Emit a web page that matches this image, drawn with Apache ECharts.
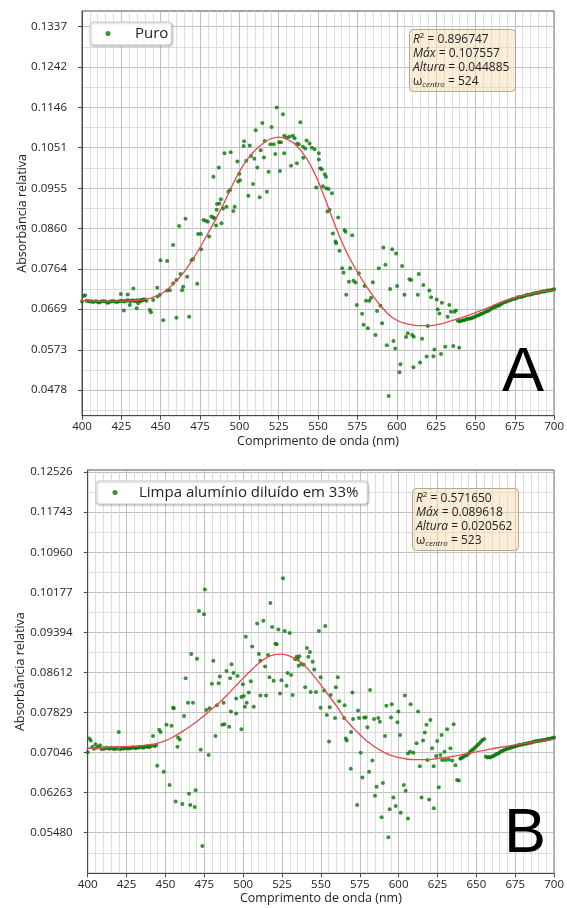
<!DOCTYPE html>
<html><head><meta charset="utf-8">
<script src="https://cdn.jsdelivr.net/npm/echarts@6/dist/echarts.min.js"></script>
<style>html,body{margin:0;padding:0;background:#fff}#c{width:567px;height:908px}</style>
</head><body><div id="c"></div>
<script>
const FONT = '"Open Sans", "DejaVu Sans", sans-serif';

// ---------- Panel A (Puro) ----------
const seriesNameA = 'Puro';
const yTicksA = [0.0478, 0.0573, 0.0669, 0.0764, 0.0860, 0.0955, 0.1051, 0.1146, 0.1242, 0.1337];
const yRangeA = [0.04172, 0.13741];
const pointsA = [
[400,0.0687],[401,0.0700],[402,0.0702],[403,0.0689],[404,0.0688],[405,0.0687],[406,0.0688],[407,0.0686],[408,0.0687],[409,0.0688],
[410,0.0686],[411,0.0685],[412,0.0687],[413,0.0688],[414,0.0688],[415,0.0687],[416,0.0684],[417,0.0685],[418,0.0687],[419,0.0688],
[420,0.0688],[421,0.0687],[422,0.0686],[423,0.0687],[424,0.0688],[425,0.0689],[426,0.0688],[427,0.0687],[428,0.0689],[429,0.0690],
[430,0.0689],[431,0.0688],[432,0.0690],[433,0.0689],[434,0.0688],[435,0.0690],[436,0.0689],[437,0.0690],[438,0.0691],[439,0.0692],[440,0.0692],
[424.7,0.0705],[426.6,0.0666],[429.0,0.0704],[430.4,0.0679],[432.6,0.0718],[434.7,0.0671],[435.7,0.0683],[437.4,0.0688],[438.9,0.0691],
[441.0,0.0689],[443.1,0.0667],[443.8,0.0662],[445.2,0.0691],[447.8,0.0720],[448.0,0.0699],[449.5,0.0703],[449.9,0.0785],[451.6,0.0643],
[454.1,0.0713],[454.1,0.0783],[455.8,0.0714],[457.9,0.0730],[457.9,0.0821],[460.0,0.0738],[460.0,0.0649],[461.7,0.0866],[462.6,0.0752],
[463.6,0.0714],[464.3,0.0722],[465.8,0.0883],[466.8,0.0746],[468.1,0.0651],[469.6,0.0785],[470.6,0.0788],[473.2,0.0729],[473.8,0.0847],
[475.5,0.0847],[475.7,0.0811],[477.2,0.0880],[478.6,0.0878],[479.9,0.0876],[480.8,0.0841],[482.2,0.0888],[483.3,0.0886],[483.5,0.0982],
[484.4,0.0884],[485.2,0.0867],[485.6,0.0904],[485.8,0.0918],[486.9,0.1004],[487.3,0.0919],[488.2,0.0929],[488.6,0.0872],[489.6,0.0907],
[490.5,0.1038],[491.8,0.0911],[493.0,0.0947],[494.1,0.0951],[494.5,0.1040],[496.2,0.0901],[497.0,0.0911],[498.7,0.1018],[499.2,0.0971],
[500.0,0.0989],[500.4,0.0974],[502.7,0.1055],[503.0,0.1066],[504.4,0.1020],[505.7,0.0937],[506.6,0.1056],[507.4,0.1031],[508.7,0.0965],
[509.5,0.1025],[510.4,0.1092],[511.4,0.1004],[512.9,0.0934],[513.5,0.1045],[514.6,0.1109],[515.6,0.1028],[516.1,0.1067],[517.5,0.0947],
[518.6,0.0994],[519.7,0.1059],[520.5,0.1100],[521.8,0.1059],[522.8,0.1036],[523.7,0.1146],[525.2,0.1064],[525.8,0.0996],[526.4,0.1064],
[527.7,0.1130],[528.5,0.1079],[528.5,0.1038],[530.2,0.1075],[531.9,0.1077],[532.8,0.1008],[534.0,0.1079],[535.1,0.1073],[536.6,0.1060],
[536.6,0.1014],[537.8,0.1059],[538.7,0.1111],[540.4,0.1053],[540.6,0.1027],[541.9,0.1049],[542.7,0.1068],[544.6,0.1061],[546.1,0.1051],
[547.8,0.1047],[548.8,0.0957],[550.5,0.1038],[550.5,0.1023],[551.4,0.1002],[552.4,0.1000],[553.1,0.0960],[554.3,0.0988],[555.0,0.0982],
[555.2,0.0955],[556.0,0.0900],[556.7,0.0953],[557.3,0.0904],[558.8,0.0943],[559.4,0.0848],[561.1,0.0829],[561.5,0.0825],[562.8,0.0886],
[563.6,0.0807],[565.3,0.0766],[566.2,0.0755],[566.8,0.0856],[567.4,0.0852],[567.9,0.0703],[569.6,0.0734],[570.4,0.0766],[571.7,0.0844],
[572.5,0.0736],[573.8,0.0732],[574.6,0.0679],[575.9,0.0754],[578.0,0.0658],[578.9,0.0632],[579.5,0.0724],[580.5,0.0689],[581.6,0.0624],
[582.6,0.0689],[583.7,0.0696],[584.8,0.0733],[586.5,0.0608],[587.5,0.0665],[588.6,0.0766],[589.6,0.0677],[590.7,0.0636],[591.5,0.0815],
[592.8,0.0774],[593.7,0.0584],[594.9,0.0464],[595.8,0.0717],[597.1,0.0811],[597.9,0.0594],[599.0,0.0576],[599.6,0.0801],[600.2,0.0724],
[601.7,0.0520],[602.3,0.0539],[603.4,0.0771],[604.9,0.0703],[605.9,0.0603],[607.0,0.0612],[608.1,0.0740],[609.1,0.0738],[609.8,0.0608],
[610.6,0.0532],[610.8,0.0604],[613.4,0.0703],[614.0,0.0752],[614.8,0.0543],[616.1,0.0599],[616.9,0.0726],[619.0,0.0557],[619.7,0.0629],
[620.7,0.0713],[621.8,0.0697],[623.3,0.0558],[623.9,0.0574],[625.4,0.0692],[626.0,0.0669],[627.1,0.0659],[628.1,0.0563],[628.7,0.0684],
[630.8,0.0580],[632.3,0.0651],[633.4,0.0679],[634.4,0.0663],[635.9,0.0582],[636.6,0.0663],[637.6,0.0666],[638.7,0.0642],[639.7,0.0578],
[640,0.0640],[641,0.0642],[642,0.0643],[643,0.0643],[644,0.0645],[645,0.0646],[646,0.0647],[647,0.0647],[648,0.0649],[649,0.0650],
[650,0.0652],[651,0.0654],[652,0.0655],[653,0.0657],[654,0.0658],[655,0.0660],[656,0.0662],[657,0.0664],[658,0.0665],[659,0.0667],
[660,0.0670],[661,0.0672],[662,0.0674],[663,0.0675],[664,0.0677],[665,0.0678],[666,0.0680],[667,0.0683],[668,0.0685],[669,0.0686],
[670,0.0688],[671,0.0689],[672,0.0690],[673,0.0692],[674,0.0693],[675,0.0694],[676,0.0695],[677,0.0697],[678,0.0698],[679,0.0698],
[680,0.0699],[681,0.0700],[682,0.0702],[683,0.0703],[684,0.0703],[685,0.0704],[686,0.0705],[687,0.0706],[688,0.0707],[689,0.0708],
[690,0.0708],[691,0.0709],[692,0.0710],[693,0.0711],[694,0.0711],[695,0.0712],[696,0.0713],[697,0.0713],[698,0.0714],[699,0.0715],[700,0.0716]
];
const fitXA = [400,410,420,430,435,440,445,450,455,460,465,470,475,480,485,490,495,500,505,510,515,520,525,530,535,540,545,550,555,560,565,570,575,580,585,590,595,600,605,610,615,620,625,630,635,640,645,650,655,660,665,670,675,680,685,690,695,700];
const fitYA = [0.0689,0.0688,0.0688,0.0689,0.0690,0.0692,0.0697,0.0705,0.0718,0.0736,0.0758,0.0785,0.0815,0.0848,0.0882,0.0918,0.0958,0.0994,0.1023,0.1045,0.1061,0.1072,0.1076,0.1071,0.1060,0.1040,0.1011,0.0972,0.0925,0.0875,0.0829,0.0790,0.0757,0.0727,0.0700,0.0676,0.0656,0.0643,0.0636,0.0632,0.0630,0.0630,0.0632,0.0636,0.0642,0.0648,0.0654,0.0661,0.0668,0.0676,0.0684,0.0690,0.0696,0.0701,0.0705,0.0709,0.0712,0.0714];
const statsA = {r2: '0.896747', max: '0.107557', altura: '0.044885', centro: '524'};

// ---------- Panel B (Limpa alumínio diluído em 33%) ----------
const seriesNameB = 'Limpa alumínio diluído em 33%';
const yTicksB = [0.05480, 0.06263, 0.07046, 0.07829, 0.08612, 0.09394, 0.10177, 0.10960, 0.11743, 0.12526];
const yRangeB = [0.04687, 0.12567];
const pointsB = [
[400,0.0705],[401,0.0732],[402,0.0728],[403,0.0716],[404,0.0712],[405,0.0721],[406,0.0714],[407,0.0716],[408,0.0719],[409,0.0711],
[410,0.0713],[411,0.0712],[412,0.0714],[413,0.0713],[414,0.0712],[415,0.0714],[416,0.0713],[417,0.0711],[418,0.0713],[419,0.0712],
[420,0.0745],[421,0.0711],[422,0.0713],[423,0.0712],[424,0.0714],[425,0.0713],[426,0.0712],[427,0.0714],[428,0.0713],[429,0.0715],
[430,0.0714],[431,0.0713],[432,0.0715],[433,0.0714],[434,0.0716],[435,0.0715],[436,0.0714],[437,0.0716],[438,0.0717],[439,0.0715],
[440,0.0716],[441,0.0718],[442,0.0737],[443,0.0717],[444,0.0719],
[446.0,0.0749],[446.9,0.0745],[450.7,0.0759],[453.9,0.0757],[455.4,0.0791],[458.1,0.0734],[459.2,0.0730],[457.7,0.0716],[462.0,0.0776],
[476.3,0.0788],[482.2,0.0737],[477.8,0.0700],[472.7,0.0710],[486.6,0.0759],[488.0,0.0760],[491.0,0.0755],[492.1,0.0785],[495.5,0.0781],
[498.9,0.0750],[444.7,0.0679],[448.9,0.0667],[452.7,0.0641],[456.6,0.0609],[460.9,0.0604],[465.2,0.0624],[466.0,0.0602],[468.8,0.0598],
[469.4,0.0631],[473.7,0.0522],
[553.8,0.0778],[555.2,0.0726],[559.1,0.0772],[564.9,0.0772],[566.0,0.0732],[566.6,0.0728],[569.4,0.0745],[569.2,0.0673],[570.7,0.0770],
[573.9,0.0787],[574.5,0.0772],[575.6,0.0704],[576.7,0.0656],[577.8,0.0773],[578.8,0.0773],[573.3,0.0602],[579.9,0.0754],[581.0,0.0667],
[583.1,0.0689],[584.2,0.0770],[584.8,0.0620],[585.8,0.0638],[586.9,0.0772],[587.9,0.0765],[589.0,0.0578],[589.9,0.0645],[591.2,0.0737],
[593.4,0.0539],[594.2,0.0594],[595.1,0.0773],[596.6,0.0617],[598.1,0.0600],[599.2,0.0764],[599.8,0.0785],[601.3,0.0587],[600.9,0.0739],
[603.3,0.0641],[604.5,0.0630],[606.0,0.0703],[606.0,0.0576],[607.3,0.0706],[609.4,0.0704],[612.5,0.0785],[611.5,0.0723],[613.6,0.0678],
[614.7,0.0617],[615.7,0.0728],[616.8,0.0744],[617.9,0.0759],[618.5,0.0690],[619.6,0.0613],[620.4,0.0768],[621.5,0.0713],[622.5,0.0678],
[622.6,0.0596],[624.1,0.0698],[624.8,0.0727],[625.8,0.0637],[626.9,0.0700],[627.6,0.0739],[628.0,0.0690],[629.5,0.0706],[630.1,0.0690],
[631.2,0.0750],[632.2,0.0691],[633.3,0.0713],[634.4,0.0689],[635.4,0.0760],[636.5,0.0680],[637.6,0.0651],[638.7,0.0650],[639.7,0.0693],
[525.6,0.1045],[475.4,0.1023],[471.6,0.0981],[474.8,0.0975],[517.5,0.0997],[509.0,0.0957],[513.0,0.0962],[518.6,0.0950],[522.6,0.0945],
[526.7,0.0942],[529.9,0.0938],[548.7,0.0942],[552.8,0.0952],[501.7,0.0931],[505.8,0.0912],[520.7,0.0917],[521.6,0.0916],[541.0,0.0909],
[542.9,0.0901],[541.9,0.0892],[466.6,0.0897],[470.3,0.0888],[510.1,0.0897],[516.0,0.0895],[534.4,0.0892],[536.1,0.0893],[535.2,0.0887],
[533.5,0.0887],[544.7,0.0882],[480.8,0.0884],[511.1,0.0884],[514.1,0.0873],[535.7,0.0874],[537.4,0.0878],[538.9,0.0876],[492.5,0.0877],
[489.3,0.0864],[493.8,0.0860],[496.4,0.0854],[491.6,0.0850],[485.0,0.0853],[545.7,0.0867],[528.6,0.0860],[530.8,0.0856],[516.9,0.0852],
[519.6,0.0845],[524.6,0.0846],[549.8,0.0852],[560.9,0.0852],[463.0,0.0850],[484.2,0.0840],[479.9,0.0839],[504.9,0.0844],[499.8,0.0838],
[527.9,0.0835],[559.6,0.0832],[539.9,0.0832],[543.4,0.0823],[546.8,0.0823],[552.1,0.0826],[570.3,0.0822],[581.6,0.0827],[523.7,0.0820],
[531.8,0.0817],[511.1,0.0816],[514.7,0.0816],[503.6,0.0822],[500.4,0.0815],[498.9,0.0813],[495.5,0.0810],[556.3,0.0817],[561.7,0.0805],
[565.2,0.0797],[555.7,0.0793],[549.8,0.0792],[464.5,0.0802],[467.7,0.0802],[478.4,0.0791],[483.1,0.0797],[487.4,0.0802],[502.3,0.0802],
[506.8,0.0794],[501.1,0.0794],[604.0,0.0816],[607.7,0.0799],[592.1,0.0796],[595.5,0.0799],[454.9,0.0792],
[640,0.0693],[641,0.0695],[642,0.0697],[643,0.0699],[644,0.0700],[645,0.0703],[646,0.0706],[647,0.0709],[648,0.0711],[649,0.0714],
[650,0.0717],[651,0.0720],[652,0.0723],[653,0.0726],[654,0.0729],[655,0.0731],[656,0.0697],[657,0.0695],[658,0.0696],[659,0.0695],
[660,0.0697],[661,0.0698],[662,0.0700],[663,0.0702],[664,0.0703],[665,0.0705],[666,0.0707],[667,0.0708],[668,0.0710],[669,0.0711],
[670,0.0712],[671,0.0713],[672,0.0714],[673,0.0715],[674,0.0716],[675,0.0717],[676,0.0718],[677,0.0719],[678,0.0720],[679,0.0720],
[680,0.0721],[681,0.0722],[682,0.0722],[683,0.0723],[684,0.0724],[685,0.0724],[686,0.0725],[687,0.0726],[688,0.0726],[689,0.0727],
[690,0.0727],[691,0.0728],[692,0.0728],[693,0.0729],[694,0.0729],[695,0.0730],[696,0.0731],[697,0.0731],[698,0.0732],[699,0.0733],[700,0.0734]
];
const fitXB = [400,410,420,430,440,445,450,455,460,465,470,475,480,485,490,495,500,505,510,515,520,525,530,535,540,545,550,555,560,565,570,575,580,585,590,595,600,605,610,615,620,625,630,635,640,650,660,670,680,690,700];
const fitYB = [0.0713,0.0714,0.0716,0.0717,0.0720,0.0723,0.0728,0.0735,0.0744,0.0754,0.0765,0.0777,0.0790,0.0803,0.0818,0.0834,0.0850,0.0865,0.0879,0.0890,0.0896,0.0897,0.0893,0.0885,0.0873,0.0856,0.0837,0.0816,0.0796,0.0773,0.0755,0.0740,0.0726,0.0715,0.0706,0.0699,0.0695,0.0692,0.0691,0.0691,0.0691,0.0693,0.0695,0.0697,0.0700,0.0706,0.0712,0.0717,0.0722,0.0727,0.0731];
const statsB = {r2: '0.571650', max: '0.089618', altura: '0.020562', centro: '523'};

// x axis ticks
const xMin = 400, xMax = 700, xStep = 25;

// ---------- helpers ----------
function pairs(xs, ys) { return xs.map((x, i) => [x, ys[i]]); }
function halfSteps(ticks, range) {
  const step = ticks[1] - ticks[0];
  const out = [ticks[0] - step / 2];
  ticks.forEach(t => out.push(t + step / 2));
  return out.filter(v => v > range[0] && v < range[1]);
}
const MAJOR = '#b0b0b0', MINOR = '#d4d4d4', FRAME = '#4a4a4a';

function xAxisCfg(gridIndex) {
  return {
    type: 'value', gridIndex, min: xMin, max: xMax, interval: xStep,
    name: 'Comprimento de onda (nm)', nameLocation: 'middle', nameGap: 19,
    nameTextStyle: {fontSize: 12.5, fontFamily: FONT, color: '#222'},
    axisLine: {show: true, lineStyle: {color: FRAME, width: 1}},
    axisTick: {show: true, length: 4, lineStyle: {color: FRAME}},
    axisLabel: {margin: 5, fontSize: 11.5, fontFamily: FONT, color: '#222'},
    splitLine: {show: true, lineStyle: {color: MAJOR, width: 0.8}},
    minorTick: {show: false, splitNumber: 5},
    minorSplitLine: {show: true, lineStyle: {color: MINOR, width: 0.8}}
  };
}
function yAxisCfg(gridIndex, ticks, range, decimals, nameGap) {
  return {
    type: 'value', gridIndex, position: 'left', min: range[0], max: range[1],
    name: 'Absorbância relativa', nameLocation: 'middle', nameGap, nameMoveOverlap: false,
    nameTextStyle: {fontSize: 12.5, fontFamily: FONT, color: '#222', verticalAlign: 'middle'},
    axisLine: {show: true, lineStyle: {color: FRAME, width: 1}},
    axisTick: {show: true, length: 4, customValues: ticks, lineStyle: {color: FRAME}},
    axisLabel: {customValues: ticks, margin: 15, fontSize: 11.5, fontFamily: FONT, color: '#222',
      formatter: v => v.toFixed(decimals)},
    splitLine: {show: true, lineStyle: {color: MAJOR, width: 0.8}}
  };
}
function yMinorCfg(gridIndex, ticks, range) {
  return {
    type: 'value', gridIndex, position: 'left', min: range[0], max: range[1],
    axisLine: {show: false}, axisLabel: {show: false},
    axisTick: {show: false, customValues: halfSteps(ticks, range)},
    splitLine: {show: true, lineStyle: {color: MINOR, width: 0.8}}
  };
}
function statsText(s) {
  return '{i|R}{sup|2}{n| = ' + s.r2 + '}\n{i|Máx}{n| = ' + s.max + '}\n{i|Altura}{n| = ' + s.altura +
    '}\n{n|ω}{sub|centro}{n| = ' + s.centro + '}';
}
const statsRich = {
  n: {fontSize: 12, fontFamily: FONT, color: '#222', lineHeight: 14.3},
  i: {fontSize: 12, fontFamily: FONT, fontStyle: 'italic', color: '#222', lineHeight: 14.3},
  sup: {fontSize: 8, fontFamily: FONT, color: '#222', verticalAlign: 'top', lineHeight: 14.3, padding: [0, 0, 5, 0]},
  sub: {fontSize: 8, fontFamily: FONT, fontStyle: 'italic', color: '#222', verticalAlign: 'bottom', lineHeight: 14.3, padding: [4, 0, 0, 0]}
};
function statsTitle(left, top, s) {
  return {
    left, top, text: statsText(s),
    textStyle: {fontSize: 12, fontFamily: FONT, color: '#222', fontWeight: 'normal', lineHeight: 14.3, rich: statsRich},
    backgroundColor: 'rgba(245,222,179,0.5)', borderColor: '#b5a88c', borderWidth: 1, borderRadius: 4,
    padding: [3, 6, 3, 4]
  };
}
function legendCfg(name, left, top, padLeft, padRight, spacer) {
  return {
    data: [name], left, top, icon: 'circle', itemWidth: 5, itemHeight: 5, selectedMode: false,
    padding: [4, padRight, 4, padLeft], backgroundColor: '#fff', borderColor: '#cfcfcf', borderWidth: 1, borderRadius: 3,
    shadowColor: 'rgba(0,0,0,0.25)', shadowBlur: 2, shadowOffsetX: 1, shadowOffsetY: 1,
    formatter: n => '{s|}{t|' + n + '}',
    textStyle: {fontSize: 15, fontFamily: FONT, color: '#222',
      rich: {s: {width: spacer, fontSize: 15}, t: {fontSize: 15, fontFamily: FONT, color: '#222'}}}
  };
}
const scatterStyle = {color: '#087508'};
const fitStyle = {color: '#e5484d', width: 1.3};

const option = {
  animation: false,
  backgroundColor: '#fff',
  grid: [
    {left: 82, top: 11, width: 473, height: 404.7, show: true, borderColor: FRAME, borderWidth: 1, containLabel: false},
    {left: 87.7, top: 470, width: 468, height: 403.3, show: true, borderColor: FRAME, borderWidth: 1, containLabel: false}
  ],
  xAxis: [xAxisCfg(0), xAxisCfg(1)],
  yAxis: [
    yAxisCfg(0, yTicksA, yRangeA, 4, 60),
    yMinorCfg(0, yTicksA, yRangeA),
    yAxisCfg(1, yTicksB, yRangeB, 5, 67.5),
    yMinorCfg(1, yTicksB, yRangeB)
  ],
  legend: [legendCfg(seriesNameA, 90, 22, 15.5, 3, 19.5), legendCfg(seriesNameB, 96, 481, 16.5, 9, 16.5)],
  title: [statsTitle(409, 29, statsA), statsTitle(412, 488, statsB)],
  graphic: [
    {type: 'text', x: 523, y: 374, z: 100, style: {text: 'A', font: '63px "Liberation Sans", Arial, sans-serif', fill: '#000', align: 'center', verticalAlign: 'middle'}},
    {type: 'text', x: 525, y: 835, z: 100, style: {text: 'B', font: '63px "Liberation Sans", Arial, sans-serif', fill: '#000', align: 'center', verticalAlign: 'middle'}}
  ],
  series: [
    {name: seriesNameA, type: 'scatter', xAxisIndex: 0, yAxisIndex: 0, data: pointsA, symbolSize: 4, itemStyle: scatterStyle, z: 3},
    {name: 'fitA', type: 'line', xAxisIndex: 0, yAxisIndex: 0, data: pairs(fitXA, fitYA), smooth: 0.3, showSymbol: false, lineStyle: fitStyle, itemStyle: {color: fitStyle.color}, z: 4},
    {name: seriesNameB, type: 'scatter', xAxisIndex: 1, yAxisIndex: 2, data: pointsB, symbolSize: 4, itemStyle: scatterStyle, z: 3},
    {name: 'fitB', type: 'line', xAxisIndex: 1, yAxisIndex: 2, data: pairs(fitXB, fitYB), smooth: 0.3, showSymbol: false, lineStyle: fitStyle, itemStyle: {color: fitStyle.color}, z: 4}
  ]
};
const chart = echarts.init(document.getElementById('c'), null, {renderer: 'canvas'});
chart.setOption(option);
</script></body></html>
